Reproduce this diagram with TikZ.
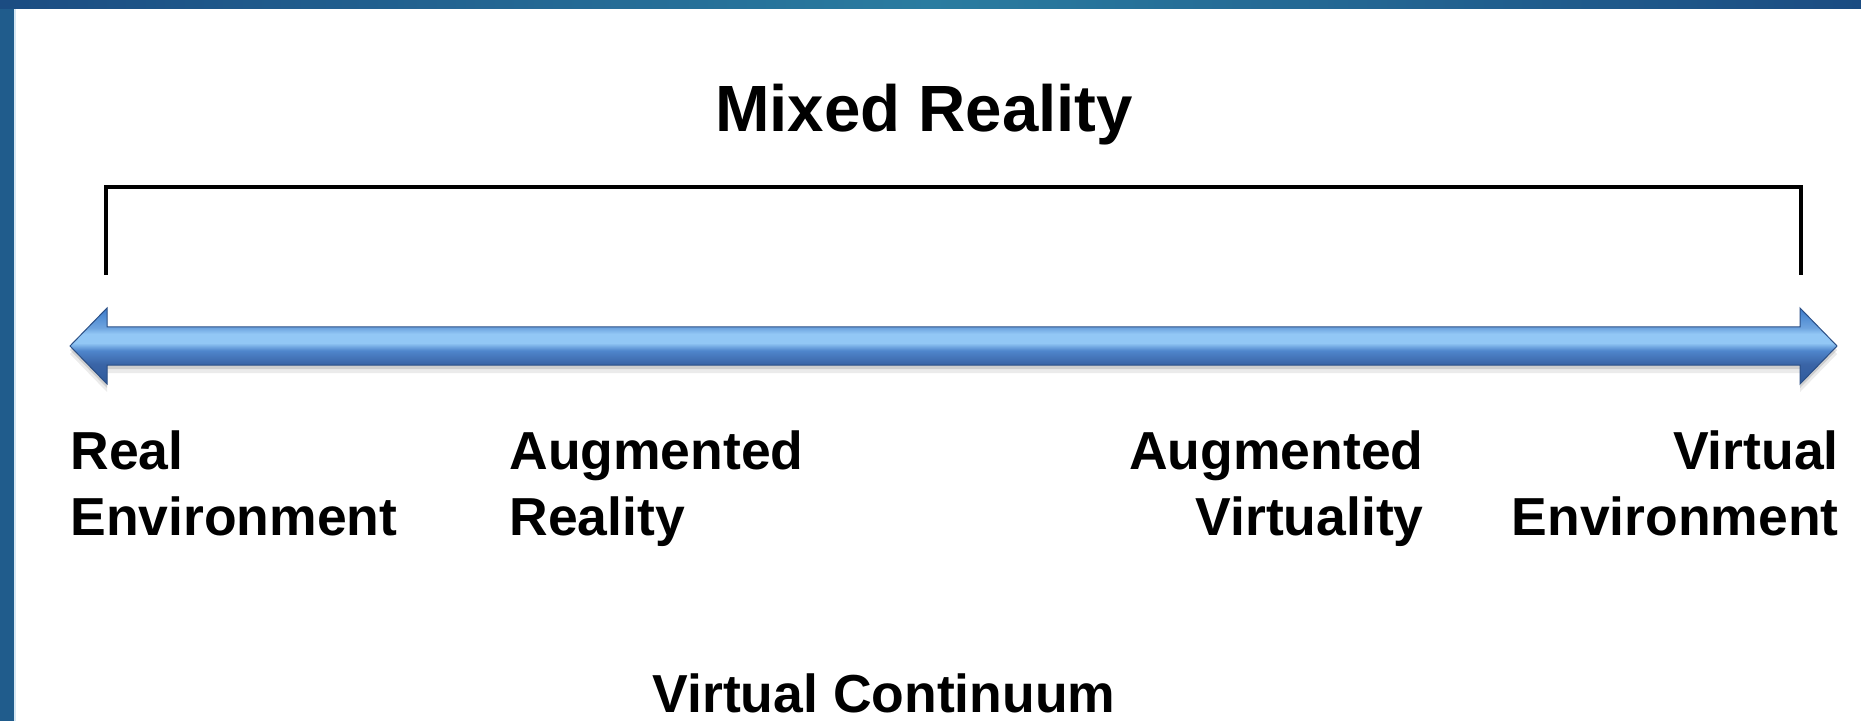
\documentclass[tikz,border=0pt]{standalone}
\usepackage{fontspec}
\setmainfont{Liberation Sans}
\definecolor{framedark}{HTML}{1B4C82}
\definecolor{frameteal}{HTML}{2A7CA0}
\definecolor{frameleft}{HTML}{205C8C}
\definecolor{frameline}{HTML}{D6E7F3}
\definecolor{headtop}{HTML}{3C7BCB}
\definecolor{bartop}{HTML}{6EA4DF}
\definecolor{barlight}{HTML}{92C7F5}
\definecolor{barmid}{HTML}{4F86CC}
\definecolor{bardark}{HTML}{3A64A6}
\definecolor{headbot}{HTML}{2E5A9C}
\definecolor{baredge}{HTML}{2B4F86}
\pgfdeclareverticalshading{barshade}{100bp}{color(0bp)=(headbot); color(25bp)=(headbot); color(38bp)=(bardark); color(47bp)=(barmid); color(52bp)=(barlight); color(58bp)=(barlight); color(62bp)=(bartop); color(75bp)=(headtop); color(100bp)=(headtop)}
\def\barpath{(70,346) -- (107,308) -- (107,327) -- (1800,327) -- (1800,308) -- (1837,346) -- (1800,384) -- (1800,365) -- (107,365) -- (107,384) -- cycle}
\tikzset{
  lbl/.style={font=\fontsize{26.75}{33}\selectfont\bfseries, inner sep=0pt},
  headline/.style={font=\fontsize{32.7}{40}\selectfont\bfseries, inner sep=0pt}
}

\begin{document}
\begin{tikzpicture}[x=0.5pt,y=-0.5pt]
\useasboundingbox (0,0) rectangle (1861,721);
\fill[white] (0,0) rectangle (1861,721);
% slide frame
\fill[frameleft] (0,0) rectangle (14,721);
\fill[frameline] (14,9) rectangle (16,721);
\shade[left color=framedark, right color=framedark, middle color=frameteal] (0,0) rectangle (1861,9);
%
% continuum arrow
\fill[black, opacity=.08, yshift=-4pt] \barpath;
\fill[black, opacity=.12, yshift=-2pt] \barpath;
\shade[shading=barshade, draw=baredge, line width=.5pt] \barpath;
%
\node [headline, anchor=base] at (924,132) (mixed) {Mixed Reality};
\node [lbl, anchor=base west, align=left] at (70,535) (real) {Real\\Environment};
\node [lbl, anchor=base west, align=left] at (509,535) (ar) {Augmented\\Reality};
\node [lbl, anchor=base east, align=right] at (1424,535) (av) {Augmented\\Virtuality};
\node [lbl, anchor=base east, align=right] at (1839,535) (virtual) {Virtual\\Environment};
\node [lbl, anchor=base] at (884,712) (continuum) {Virtual Continuum};
%
% bracket
\coordinate (mr west) at (106,275);
\coordinate (mr east) at (1801,275);
\draw[line width=2pt] (mr west) -- ++(0,-88) -| (mr east);
\end{tikzpicture}
\end{document}
